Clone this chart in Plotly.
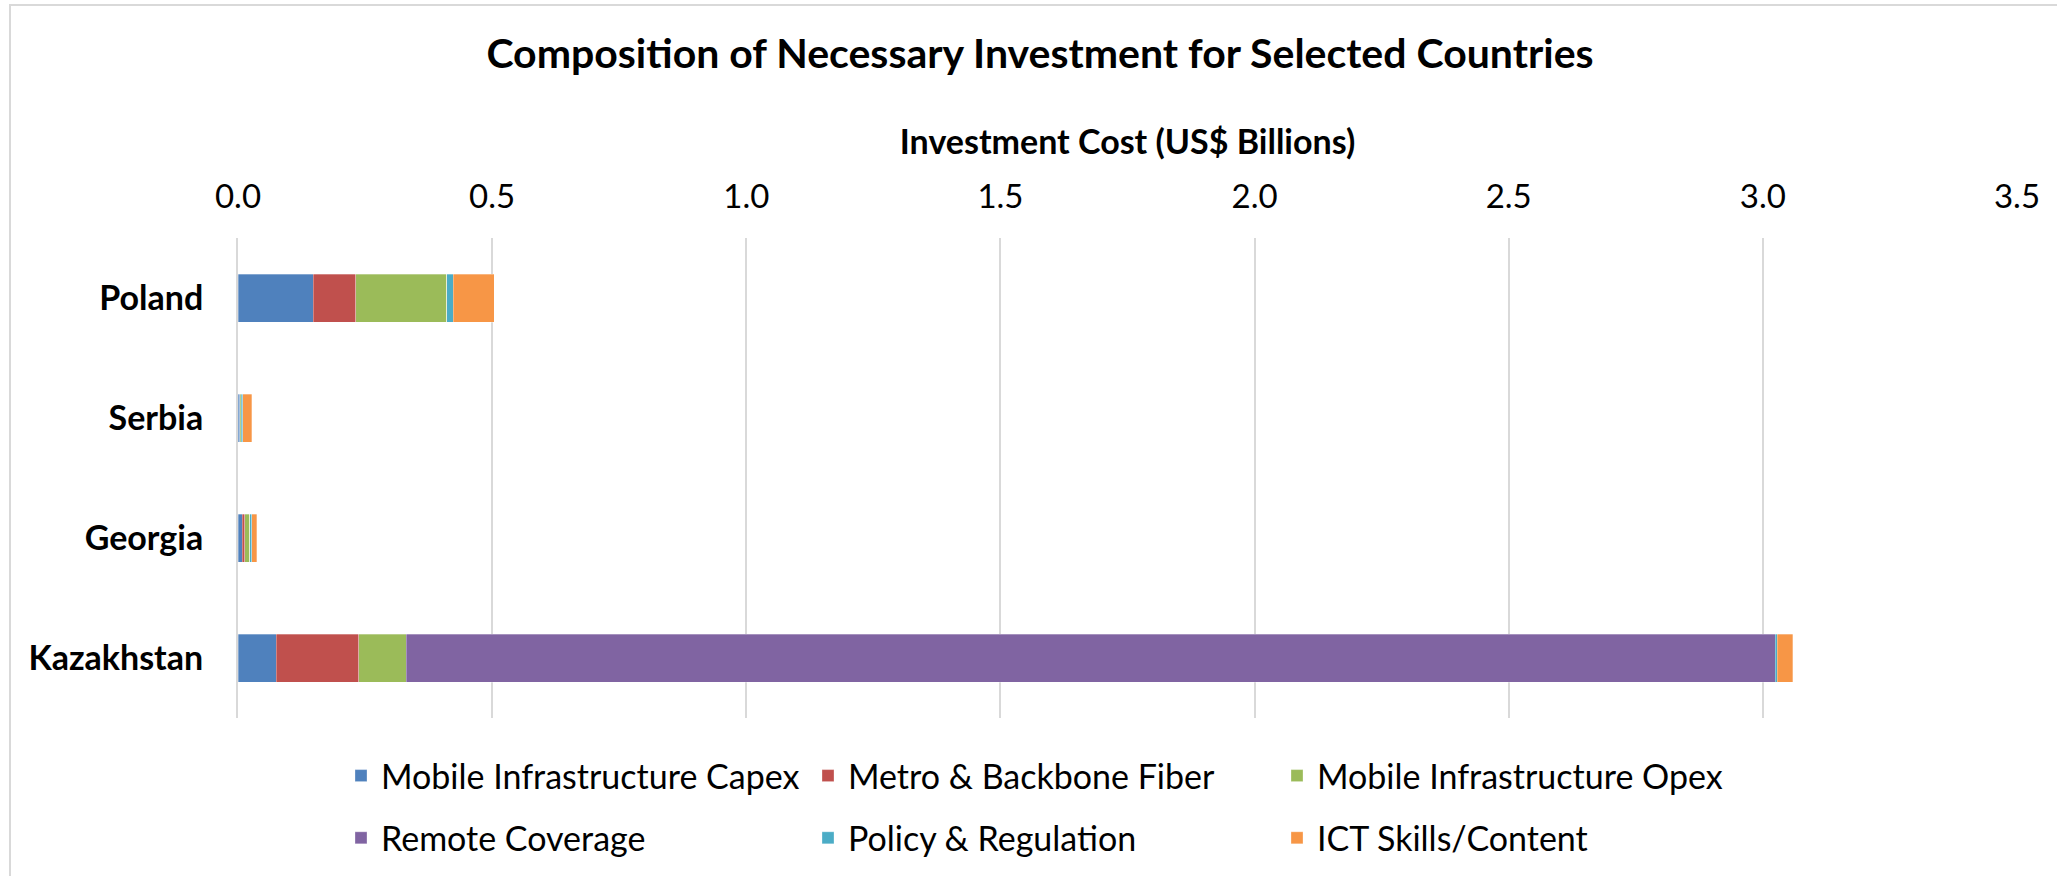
import plotly.graph_objects as go

# Investment cost components, US$ billions
countries = ["Poland", "Serbia", "Georgia", "Kazakhstan"]
mobile_capex = [0.148, 0.003, 0.008, 0.075]
metro_fiber = [0.084, 0.001, 0.005, 0.163]
mobile_opex = [0.179, 0.002, 0.010, 0.093]
remote_coverage = [0.0, 0.0, 0.0, 2.693]
policy_regulation = [0.012, 0.003, 0.004, 0.004]
ict_skills = [0.081, 0.018, 0.010, 0.031]

x_ticks = [0.0, 0.5, 1.0, 1.5, 2.0, 2.5, 3.0, 3.5]
x_tick_text = ["0.0", "0.5", "1.0", "1.5", "2.0", "2.5", "3.0", "3.5"]

series = [
    ("Mobile Infrastructure Capex", mobile_capex, "#4F81BD", "legend"),
    ("Metro & Backbone Fiber", metro_fiber, "#C0504D", "legend2"),
    ("Mobile Infrastructure Opex", mobile_opex, "#9BBB59", "legend3"),
    ("Remote Coverage", remote_coverage, "#8064A2", "legend"),
    ("Policy & Regulation", policy_regulation, "#4BACC6", "legend2"),
    ("ICT Skills/Content", ict_skills, "#F79646", "legend3"),
]

W, H = 2057, 876
L, R, T, B = 238, 40, 238, 158
PW, PH = W - L - R, H - T - B


def px_x(px):
    return (px - L) / PW


def px_y(py):
    return (H - B - py) / PH


FONT = "Lato"

fig = go.Figure()
for name, vals, color, leg in series:
    fig.add_trace(go.Bar(
        y=countries, x=vals, name=name, orientation="h",
        marker=dict(color=color, line=dict(width=0.6, color="rgba(255,255,255,0.5)")),
        legend=leg, legendgroup=name,
    ))

legend_common = dict(
    orientation="v", yanchor="top", xanchor="left",
    font=dict(family=FONT, size=34, color="#000000"),
    bgcolor="rgba(0,0,0,0)", tracegroupgap=15,
)

fig.update_layout(
    width=W, height=H,
    margin=dict(l=L, r=R, t=T, b=B, pad=0, autoexpand=False),
    paper_bgcolor="white", plot_bgcolor="white",
    barmode="stack", bargap=0.6,
    font=dict(family=FONT, color="#000000"),
    title=dict(
        text="Composition of Necessary Investment for Selected Countries",
        font=dict(family=FONT, size=41, color="#000000", weight="bold"),
        x=1040 / W, xanchor="center", xref="container",
        y=1 - 54 / H, yanchor="middle", yref="container",
    ),
    xaxis=dict(
        side="top", range=[0, 3.5], tickvals=x_ticks, ticktext=x_tick_text,
        showgrid=True, gridcolor="#D9D9D9", gridwidth=2,
        zeroline=False, showline=False, ticks="", automargin=False,
        tickfont=dict(family=FONT, size=33, color="#000000"),
        ticklabelstandoff=22,
        title=dict(text="Investment Cost (US$ Billions)",
                   font=dict(family=FONT, size=34, color="#000000", weight="bold"),
                   standoff=10),
    ),
    yaxis=dict(
        autorange="reversed", showgrid=False, ticks="", automargin=False,
        showline=True, linecolor="#D9D9D9", linewidth=2,
        tickfont=dict(family=FONT, size=34, color="#000000", weight="bold"),
        ticklabelstandoff=26,
    ),
    legend=dict(x=px_x(341), y=px_y(747), **legend_common),
    legend2=dict(x=px_x(808), y=px_y(747), **legend_common),
    legend3=dict(x=px_x(1277), y=px_y(747), **legend_common),
    shapes=[dict(
        type="rect", xref="paper", yref="paper",
        x0=px_x(10), x1=px_x(W + 20), y0=px_y(H + 20), y1=px_y(5),
        line=dict(color="#D9D9D9", width=2), fillcolor="rgba(0,0,0,0)", layer="below",
    )],
)

fig.write_html("out.html")
